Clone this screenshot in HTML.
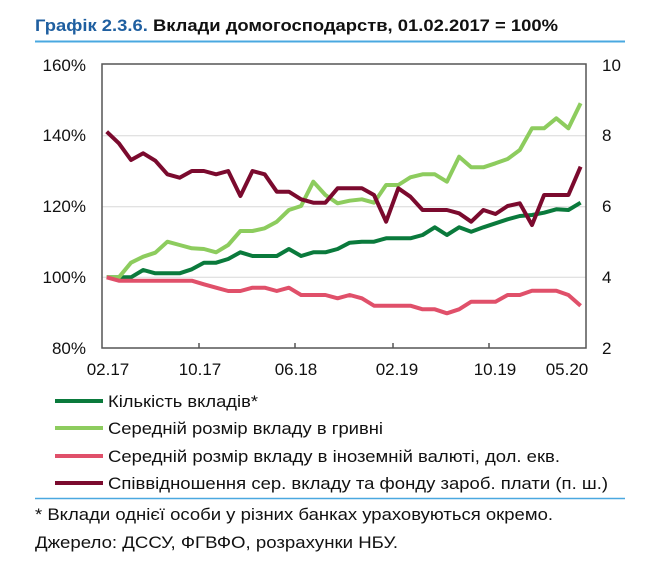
<!DOCTYPE html>
<html><head><meta charset="utf-8"><style>
html,body{margin:0;padding:0;background:#fff;width:650px;height:563px;overflow:hidden}
svg{display:block}
text{font-family:"Liberation Sans","DejaVu Sans",sans-serif}
</style></head><body>
<svg id="s" width="650" height="563" viewBox="0 0 650 563" xmlns="http://www.w3.org/2000/svg">
<text x="35" y="31" font-size="17" font-weight="bold" textLength="523" lengthAdjust="spacingAndGlyphs"><tspan fill="#1f5fa0">Графік 2.3.6.</tspan><tspan fill="#111"> Вклади домогосподарств, 01.02.2017 = 100%</tspan></text>
<line x1="35" y1="41.5" x2="625" y2="41.5" stroke="#4aa8e0" stroke-width="2"/>
<g stroke="#d8d8d8" stroke-width="1">
<line x1="102" y1="135.7" x2="586" y2="135.7"/>
<line x1="102" y1="206.7" x2="586" y2="206.7"/>
<line x1="102" y1="277.3" x2="586" y2="277.3"/>
</g>
<g font-size="17" fill="#111" text-anchor="end">
<text x="86" y="71">160%</text><text x="86" y="141">140%</text><text x="86" y="212">120%</text><text x="86" y="283">100%</text><text x="86" y="354">80%</text>
</g>
<g font-size="17" fill="#111">
<text x="602" y="71">10</text><text x="602" y="141">8</text><text x="602" y="212">6</text><text x="602" y="283">4</text><text x="602" y="354">2</text>
</g>
<g font-size="17" fill="#111" text-anchor="middle">
<text x="108" y="375">02.17</text><text x="200" y="375">10.17</text><text x="296" y="375">06.18</text><text x="397" y="375">02.19</text><text x="495" y="375">10.19</text><text x="567" y="375">05.20</text>
</g>
<g id="lines" fill="none" stroke-width="4" stroke-linejoin="round" stroke-linecap="butt"></g>
<rect x="102" y="64" width="484" height="284" fill="none" stroke="#555" stroke-width="1.5"/>
<g stroke="#555" stroke-width="1.5">
<line x1="199" y1="348" x2="199" y2="343"/><line x1="295" y1="348" x2="295" y2="343"/><line x1="393" y1="348" x2="393" y2="343"/><line x1="489" y1="348" x2="489" y2="343"/>
</g>
<g stroke-width="4">
<line x1="55" y1="401" x2="103" y2="401" stroke="#0a7a3c"/>
<line x1="55" y1="428" x2="103" y2="428" stroke="#8dcc5e"/>
<line x1="55" y1="456" x2="103" y2="456" stroke="#e0506a"/>
<line x1="55" y1="483" x2="103" y2="483" stroke="#7b0a2e"/>
</g>
<g font-size="17" fill="#111">
<text x="108" y="407" textLength="150" lengthAdjust="spacingAndGlyphs">Кількість вкладів*</text>
<text x="108" y="434" textLength="275" lengthAdjust="spacingAndGlyphs">Середній розмір вкладу в гривні</text>
<text x="108" y="462" textLength="452" lengthAdjust="spacingAndGlyphs">Середній розмір вкладу в іноземній валюті, дол. екв.</text>
<text x="108" y="489" textLength="500" lengthAdjust="spacingAndGlyphs">Співвідношення сер. вкладу та фонду зароб. плати (п. ш.)</text>
</g>
<line x1="35" y1="498.5" x2="625" y2="498.5" stroke="#4aa8e0" stroke-width="1.5"/>
<g font-size="17" fill="#111">
<text x="35" y="520" textLength="518" lengthAdjust="spacingAndGlyphs">* Вклади однієї особи у різних банках ураховуються окремо.</text>
<text x="35" y="548" textLength="363" lengthAdjust="spacingAndGlyphs">Джерело: ДССУ, ФГВФО, розрахунки НБУ.</text>
</g>
</svg>
<script>
var S={
"#0a7a3c":[712,712,712,690,700,700,700,688,668,668,657,637,648,648,648,627,648,637,637,627,608,605,605,595,595,595,585,562,585,562,575,562,550,538,528,525,518,508,510,488],
"#8dcc5e":[712,712,668,650,638,605,615,625,627,637,615,573,573,565,545,510,498,425,465,490,482,478,488,435,435,412,403,403,425,350,382,382,370,357,330,265,265,235,265,190],
"#e0506a":[712,722,722,722,722,722,722,722,733,743,753,753,743,743,753,743,765,765,765,775,765,775,797,797,797,797,808,808,820,808,785,785,785,765,765,752,752,752,765,797],
"#7b0a2e":[275,310,360,340,362,403,413,393,393,403,393,468,393,403,455,455,478,488,488,445,445,445,465,545,445,470,510,510,510,520,545,510,522,498,490,555,465,465,465,380]
};
var g=document.getElementById("lines"),ns="http://www.w3.org/2000/svg";
for(var c in S){var p=S[c].map(function(Y,i){return (106.7+12.15*i).toFixed(1)+","+(40+Y/3).toFixed(1)}).join(" ");
var e=document.createElementNS(ns,"polyline");e.setAttribute("points",p);e.setAttribute("stroke",c);g.appendChild(e);}
</script>
</body></html>
